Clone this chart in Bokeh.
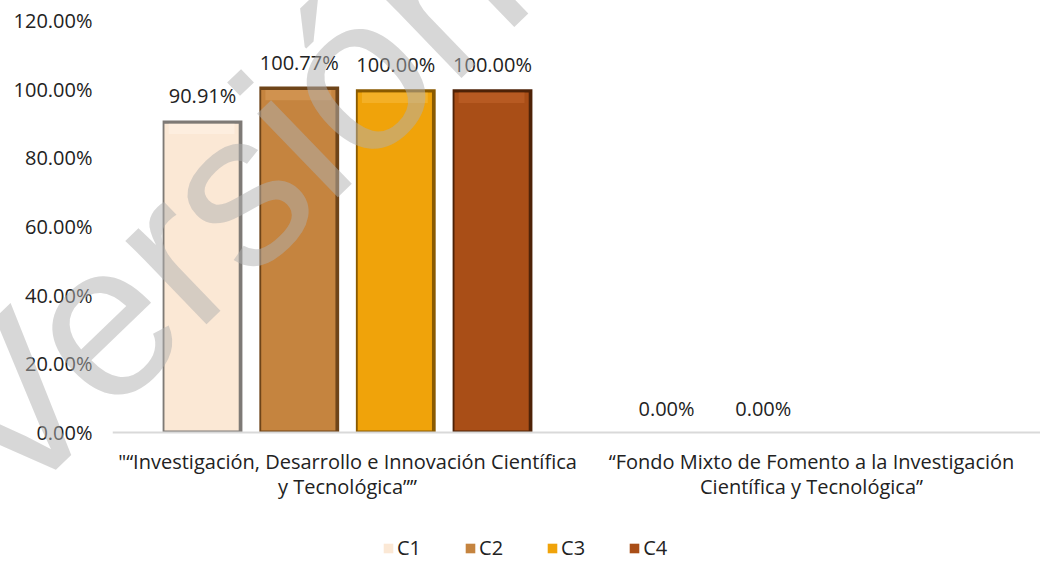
from bokeh.plotting import figure
from bokeh.models import (ColumnDataSource, FixedTicker, NumeralTickFormatter, Legend,
                          LegendItem, Range1d, Span)
from bokeh.transform import dodge
from bokeh.core.properties import value
from bokeh.embed import file_html
from bokeh.resources import INLINE

categories = ['"\u201cInvestigaci\u00f3n, Desarrollo e Innovaci\u00f3n Cient\u00edfica\ny Tecnol\u00f3gica\u201d\u201d',
              "\u201cFondo Mixto de Fomento a la Investigaci\u00f3n\nCient\u00edfica y Tecnol\u00f3gica\u201d"]
series = ["C1", "C2", "C3", "C4"]
c1 = [0.9091, 0.0]
c2 = [1.0077, 0.0]
c3 = [1.0, None]
c4 = [1.0, None]
values = [c1, c2, c3, c4]
y_ticks = [0.0, 0.2, 0.4, 0.6, 0.8, 1.0, 1.2]
watermark = "Versi\u00f3n"

fills = ["#FBE8D5", "#C5843F", "#F0A30A", "#A94E17"]
edges = ["#7E7A76", "#6E4419", "#8A5A00", "#4E2207"]
tops = ["#FFF6EC", "#DDA364", "#F8C24A", "#C86B30"]
offsets = [-0.3125, -0.104, 0.104, 0.3125]
FONT = "Open Sans"
TXT = "#222222"
FS = "20px"

p = figure(width=1040, height=560, output_backend="svg", toolbar_location=None,
           x_range=Range1d(-0.5065, 1.4935), y_range=Range1d(-0.3728, 1.2),
           min_border_left=112, min_border_right=0, min_border_top=20, min_border_bottom=0)
p.outline_line_color = None
p.grid.visible = False
p.xaxis.visible = False

# x axis line
p.add_layout(Span(location=0, dimension="width", line_color="#D9D9D9", line_width=2))

bar_w = 0.172
legend_items = []
for i, (name, vals) in enumerate(zip(series, values)):
    xs = [j for j, v in enumerate(vals) if v is not None]
    ys = [v for v in vals if v is not None]
    src = ColumnDataSource(dict(x=xs, top=ys,
                                inner_top=[max(v - 0.010, 0.006) for v in ys],
                                hl_bot=[max(v - 0.04, 0.006) for v in ys],
                                lab=["{:.2f}%".format(v * 100) for v in ys]))
    p.vbar(x=dodge("x", offsets[i], range=p.x_range), top="top", bottom=0, width=bar_w,
           source=src, fill_color=edges[i], line_color=None)
    inner = p.vbar(x=dodge("x", offsets[i] - 0.002, range=p.x_range), top="inner_top", bottom=0.006,
                   width=bar_w - 0.012, source=src, fill_color=fills[i], line_color=None)
    p.vbar(x=dodge("x", offsets[i] - 0.002, range=p.x_range), top="inner_top", bottom="hl_bot",
           width=bar_w - 0.03, source=src, fill_color=tops[i], fill_alpha=0.45, line_color=None)
    p.text(x=dodge("x", offsets[i], range=p.x_range), y="top", text="lab", source=src,
           text_align="center", text_baseline="bottom", y_offset=-11,
           text_font=value(FONT), text_font_size=FS, text_color=TXT)
    legend_items.append(LegendItem(label=name, renderers=[inner]))

# category labels under the axis line
csrc = ColumnDataSource(dict(x=[0, 1], y=[0, 0], t=categories))
p.text(x="x", y="y", text="t", source=csrc, text_align="center", text_baseline="top",
       y_offset=15, text_font=value(FONT), text_font_size=FS, text_color=TXT,
       text_line_height=0.95)

# y axis
p.yaxis.ticker = FixedTicker(ticks=y_ticks)
p.yaxis.formatter = NumeralTickFormatter(format="0.00%")
p.yaxis.axis_line_color = None
p.yaxis.major_tick_line_color = None
p.yaxis.minor_tick_line_color = None
p.yaxis.major_label_standoff = 14
p.yaxis.major_label_text_font = FONT
p.yaxis.major_label_text_font_size = FS
p.yaxis.major_label_text_color = TXT

legend = Legend(items=legend_items, orientation="horizontal", location=(270, -1),
                glyph_width=12, glyph_height=12, spacing=43, label_standoff=3,
                padding=0, margin=0, border_line_color=None, background_fill_alpha=0,
                label_text_font=FONT, label_text_font_size=FS, label_text_color=TXT)
p.add_layout(legend, "center")

# faint diagonal watermark
wsrc = ColumnDataSource(dict(x=[-0.8397], y=[-0.076], t=[watermark]))
p.text(x="x", y="y", text="t", source=wsrc, angle=44, angle_units="deg",
       text_font=value("Liberation Sans"), text_font_size="220px", text_color="#B0B0B0",
       text_alpha=0.5, text_align="left", text_baseline="alphabetic", level="overlay")

open("out.html", "w").write(file_html(p, INLINE))
